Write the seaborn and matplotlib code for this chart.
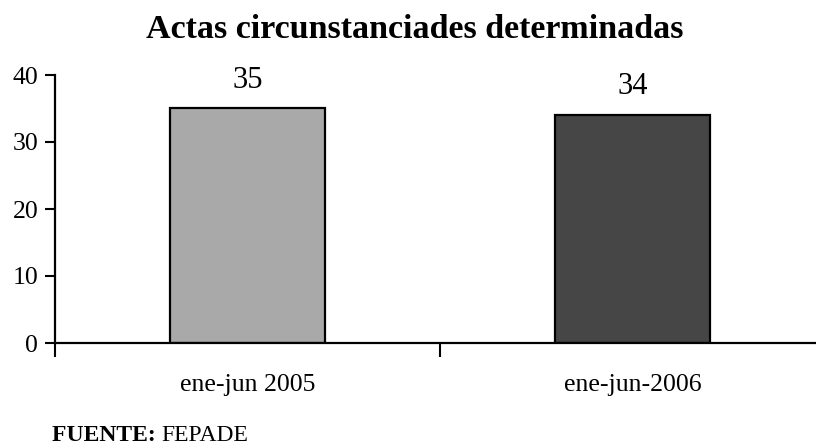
import matplotlib
matplotlib.use("Agg")
import matplotlib.pyplot as plt
import seaborn as sns
import pandas as pd

categories = ["ene-jun 2005", "ene-jun-2006"]
values = [35, 34]
colors = ["#a9a9a9", "#464646"]
title = "Actas circunstanciades determinadas"
yticks = [0, 10, 20, 30, 40]

sns.set_theme(style="white")
plt.rcParams['font.family'] = ['Liberation Serif', 'DejaVu Serif']
plt.rcParams['text.color'] = 'black'
plt.rcParams['xtick.color'] = 'black'
plt.rcParams['ytick.color'] = 'black'
plt.rcParams['axes.labelcolor'] = 'black'

df = pd.DataFrame({"periodo": categories, "actas": values})

fig = plt.figure(figsize=(8.16, 4.48), dpi=100)
ax = fig.add_axes([55/816, 105/448, 770/816, 268/448])

sns.barplot(data=df, x="periodo", y="actas", hue="periodo", palette=colors,
            width=0.405, edgecolor="black", linewidth=1.6, legend=False,
            saturation=1, ax=ax)

ax.set_xlim(-0.5, 1.5)
ax.set_ylim(0, 40)
ax.set_yticks(yticks)
ax.set_yticklabels([str(t) for t in yticks], fontsize=18.5)
ax.tick_params(axis="y", direction="out", length=7, width=1.5, color="black",
               labelcolor="black", pad=5, left=True)

ax.set_xticks([-0.5, 0.5, 1.5])
ax.set_xticklabels(["", "", ""])
ax.set_xticks([0, 1], minor=True)
ax.set_xticklabels(categories, minor=True, fontsize=18.5)
ax.tick_params(axis="x", which="major", direction="out", length=10, width=1.5,
               color="black", bottom=True)
ax.tick_params(axis="x", which="minor", length=0, pad=22, labelcolor="black")

for s in ["top", "right"]:
    ax.spines[s].set_visible(False)
for s in ["left", "bottom"]:
    ax.spines[s].set_color("black")
    ax.spines[s].set_linewidth(1.6)

ax.set_xlabel("")
ax.set_ylabel("")

for i, v in enumerate(values):
    ax.annotate(str(v), (i, v), xytext=(0, 15), textcoords="offset points",
                ha="center", va="baseline", fontsize=22, color="black")

fig.text(415/816, 1 - 30/448, title, ha="center", va="center", fontsize=24.5,
         fontweight="bold", color="black")
t1 = fig.text(52/816, 1 - 435/448, "FUENTE: ", ha="left", va="center",
              fontsize=17, fontweight="bold", color="black")
fig.canvas.draw()
bb = t1.get_window_extent()
fig.text(bb.x1/816, 1 - 435/448, "FEPADE", ha="left", va="center",
         fontsize=17, color="black")

fig.savefig("out.png", dpi=100)
